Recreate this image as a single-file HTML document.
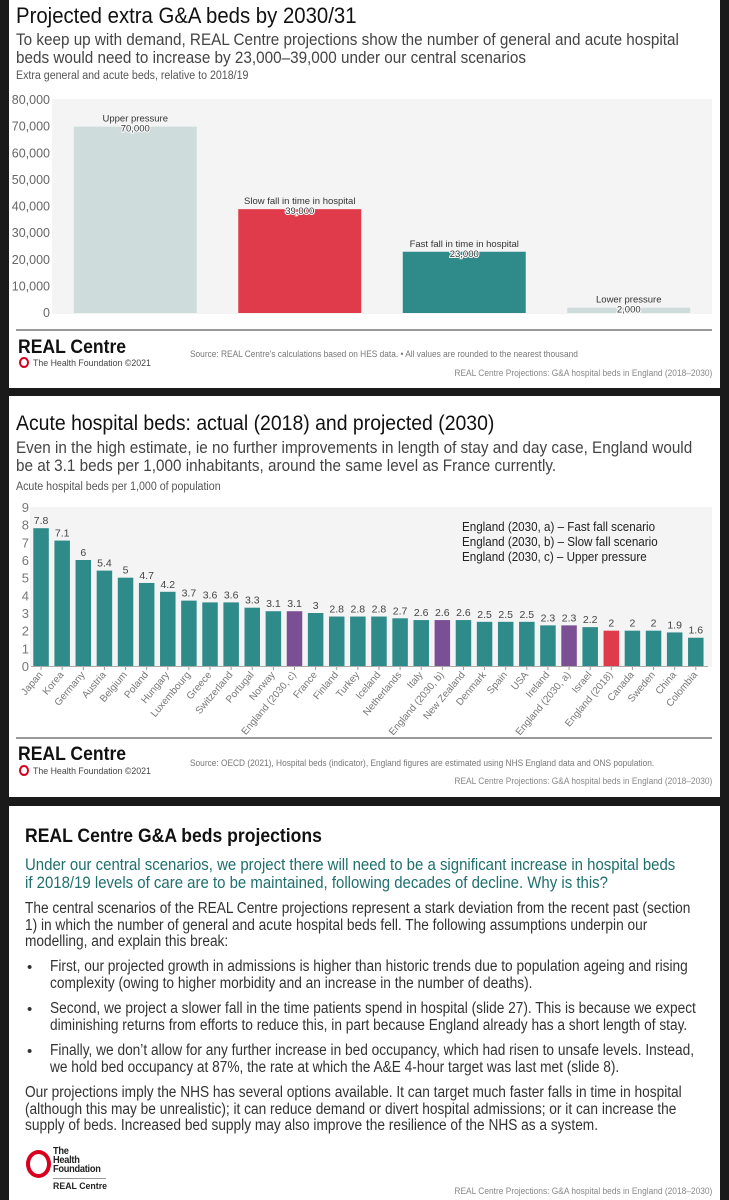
<!DOCTYPE html>
<html><head><meta charset="utf-8">
<style>
body{margin:0;width:729px;height:1200px;background:#1a1a1a;position:relative;overflow:hidden;font-family:"Liberation Sans",sans-serif;}
.panel{position:absolute;left:9px;width:711px;background:#fff;}
.t{position:absolute;white-space:nowrap;transform-origin:0 0;}
.c{transform:scaleX(0.925);}
.b{transform:scaleX(0.895);}
svg{position:absolute;left:0;top:0;}
</style></head><body>
<div class="panel" style="top:0;height:388px"></div>
<div class="panel" style="top:396px;height:401px"></div>
<div class="panel" style="top:806px;height:394px"></div>

<!-- Panel 1 text -->
<div class="t c" style="left:16px;top:3px;font-size:22px;color:#111">Projected extra G&amp;A beds by 2030/31</div>
<div class="t c" style="left:16px;top:31px;font-size:16.5px;color:#444;line-height:18px">To keep up with demand, REAL Centre projections show the number of general and acute hospital<br>beds would need to increase by 23,000–39,000 under our central scenarios</div>
<div class="t c" style="left:16px;top:70px;font-size:11.5px;color:#555">Extra general and acute beds, relative to 2018/19</div>

<svg id="c1" width="729" height="400"></svg>

<div style="position:absolute;left:16px;top:329px;width:696px;height:2px;background:#999"></div>
<div class="t c" style="left:18px;top:337px;font-size:19px;font-weight:bold;color:#111">REAL Centre</div>
<div class="t" style="left:19px;top:357px;font-size:9.5px;color:#444"><span style="display:inline-block;width:6px;height:7px;border:2px solid #d9001f;border-radius:50%;vertical-align:-2px;margin-right:4px"></span><span class="t c" style="position:relative;display:inline-block;">The Health Foundation ©2021</span></div>
<div class="t c" style="left:190px;top:349px;font-size:9px;color:#777">Source: REAL Centre's calculations based on HES data. • All values are rounded to the nearest thousand</div>
<div class="t" style="right:17px;top:368px;font-size:9px;color:#888;transform:scaleX(0.93);transform-origin:100% 0">REAL Centre Projections: G&amp;A hospital beds in England (2018–2030)</div>

<!-- Panel 2 text -->
<div class="t c" style="left:16px;top:412px;font-size:21px;color:#111">Acute hospital beds: actual (2018) and projected (2030)</div>
<div class="t c" style="left:16px;top:439px;font-size:16.5px;color:#444;line-height:18px">Even in the high estimate, ie no further improvements in length of stay and day case, England would<br>be at 3.1 beds per 1,000 inhabitants, around the same level as France currently.</div>
<div class="t c" style="left:16px;top:481px;font-size:11.5px;color:#555">Acute hospital beds per 1,000 of population</div>

<svg id="c2" width="729" height="1200"></svg>

<div style="position:absolute;left:16px;top:737px;width:696px;height:2px;background:#999"></div>
<div class="t c" style="left:18px;top:744px;font-size:19px;font-weight:bold;color:#111">REAL Centre</div>
<div class="t" style="left:19px;top:765px;font-size:9.5px;color:#444"><span style="display:inline-block;width:6px;height:7px;border:2px solid #d9001f;border-radius:50%;vertical-align:-2px;margin-right:4px"></span><span class="t c" style="position:relative;display:inline-block;">The Health Foundation ©2021</span></div>
<div class="t c" style="left:190px;top:758px;font-size:9px;color:#777">Source: OECD (2021), Hospital beds (indicator), England figures are estimated using NHS England data and ONS population.</div>
<div class="t" style="right:17px;top:776px;font-size:9px;color:#888;transform:scaleX(0.93);transform-origin:100% 0">REAL Centre Projections: G&amp;A hospital beds in England (2018–2030)</div>

<!-- Panel 3 -->
<div class="t c" style="left:25px;top:826px;font-size:19px;font-weight:bold;color:#111">REAL Centre G&amp;A beds projections</div>
<div class="t" style="left:25px;top:856px;font-size:17px;color:#1f6f6d;line-height:18px;transform:scaleX(0.88)">Under our central scenarios, we project there will need to be a significant increase in hospital beds<br>if 2018/19 levels of care are to be maintained, following decades of decline. Why is this?</div>
<div class="t b" style="left:25px;top:901px;font-size:15.3px;color:#333;line-height:16.6px">The central scenarios of the REAL Centre projections represent a stark deviation from the recent past (section<br>1) in which the number of general and acute hospital beds fell. The following assumptions underpin our<br>modelling, and explain this break:</div>
<div class="t" style="left:27px;top:959px;font-size:15px;color:#333">•</div>
<div class="t b" style="left:50px;top:959px;font-size:15.3px;color:#333;line-height:16.6px">First, our projected growth in admissions is higher than historic trends due to population ageing and rising<br>complexity (owing to higher morbidity and an increase in the number of deaths).</div>
<div class="t" style="left:27px;top:1001px;font-size:15px;color:#333">•</div>
<div class="t b" style="left:50px;top:1001px;font-size:15.3px;color:#333;line-height:16.6px">Second, we project a slower fall in the time patients spend in hospital (slide 27). This is because we expect<br>diminishing returns from efforts to reduce this, in part because England already has a short length of stay.</div>
<div class="t" style="left:27px;top:1043px;font-size:15px;color:#333">•</div>
<div class="t b" style="left:50px;top:1043px;font-size:15.3px;color:#333;line-height:16.6px">Finally, we don’t allow for any further increase in bed occupancy, which had risen to unsafe levels. Instead,<br>we hold bed occupancy at 87%, the rate at which the A&amp;E 4-hour target was last met (slide 8).</div>
<div class="t b" style="left:25px;top:1085px;font-size:15.3px;color:#333;line-height:16.6px">Our projections imply the NHS has several options available. It can target much faster falls in time in hospital<br>(although this may be unrealistic); it can reduce demand or divert hospital admissions; or it can increase the<br>supply of beds. Increased bed supply may also improve the resilience of the NHS as a system.</div>
<div style="position:absolute;left:26px;top:1150px;width:17px;height:20px;border:4px solid #d9001f;border-radius:50%"></div>
<div class="t c" style="left:53px;top:1147px;font-size:10px;font-weight:bold;color:#222;line-height:9px;letter-spacing:-0.3px">The<br>Health<br>Foundation</div>
<div style="position:absolute;left:53px;top:1178px;width:53px;height:1px;background:#999"></div>
<div class="t c" style="left:53px;top:1181px;font-size:9.5px;font-weight:bold;color:#222">REAL Centre</div>
<div class="t" style="right:17px;top:1186px;font-size:9px;color:#888;transform:scaleX(0.93);transform-origin:100% 0">REAL Centre Projections: G&amp;A hospital beds in England (2018–2030)</div>

<script>
const NS='http://www.w3.org/2000/svg';
function mk(svg,tag,attrs,txt){const e=document.createElementNS(NS,tag);for(const k in attrs)e.setAttribute(k,attrs[k]);if(txt!==undefined)e.textContent=txt;svg.appendChild(e);return e;}

// ---- Chart 1 data ----
const c1Categories=['Upper pressure','Slow fall in time in hospital','Fast fall in time in hospital','Lower pressure'];
const c1Values=[70000,39000,23000,2000];
const c1ValueLabels=['70,000','39,000','23,000','2,000'];
const c1Colors=['#cfdcdc','#e03b4b','#2e8b8a','#cfdcdc'];
const c1Ticks=[0,10000,20000,30000,40000,50000,60000,70000,80000];
const c1TickLabels=['0','10,000','20,000','30,000','40,000','50,000','60,000','70,000','80,000'];

(function(){
  const s=document.getElementById('c1');
  const y0=313,y1=100,max=80000;
  const y=v=>y0-(v/max)*(y0-y1);
  const band=164.5,x0=53,bw=123;
  const xc=i=>x0+band*i+band/2;
  const bg=mk(s,'rect',{x:52,y:99,width:660,height:215,fill:'#f4f4f4'});
  
  
  c1Ticks.forEach((t,i)=>{
    const l=mk(s,'text',{x:50,y:y(t)+4,'text-anchor':'end','font-size':12.5,fill:'#666','font-family':'Liberation Sans'},c1TickLabels[i]);
    
    
  });
  c1Values.forEach((v,i)=>{
    const r=mk(s,'rect',{x:xc(i)-bw/2,y:y(v),width:bw,height:y0-y(v),fill:c1Colors[i]});
    
    
    const a=mk(s,'text',{x:xc(i),y:y(v)-5,'text-anchor':'middle','font-size':9.5,fill:'#333','font-family':'Liberation Sans'},c1Categories[i]);
    
    
    const b=mk(s,'text',{x:xc(i),y:y(v)+5,'text-anchor':'middle','font-size':9.5,fill:'#333',stroke:'#fff','stroke-width':2,'paint-order':'stroke','font-family':'Liberation Sans'},c1ValueLabels[i]);
    
    
  });
})();

// ---- Chart 2 data ----
const c2Countries=['Japan','Korea','Germany','Austria','Belgium','Poland','Hungary','Luxembourg','Greece','Switzerland','Portugal','Norway','England (2030, c)','France','Finland','Turkey','Iceland','Netherlands','Italy','England (2030, b)','New Zealand','Denmark','Spain','USA','Ireland','England (2030, a)','Israel','England (2018)','Canada','Sweden','China','Colombia'];
const c2Values=[7.8,7.1,6,5.4,5,4.7,4.2,3.7,3.6,3.6,3.3,3.1,3.1,3,2.8,2.8,2.8,2.7,2.6,2.6,2.6,2.5,2.5,2.5,2.3,2.3,2.2,2,2,2,1.9,1.6];
const c2Types=['c','c','c','c','c','c','c','c','c','c','c','c','p','c','c','c','c','c','c','p','c','c','c','c','c','p','c','r','c','c','c','c'];
const c2Ticks=[0,1,2,3,4,5,6,7,8,9];
const c2Legend=['England (2030, a) – Fast fall scenario','England (2030, b) – Slow fall scenario','England (2030, c) – Upper pressure'];

(function(){
  const s=document.getElementById('c2');
  const col={c:'#2e8b8a',p:'#7b4f94',r:'#e03b4b'};
  const y0=666,y1=507,max=9;
  const y=v=>y0-(v/max)*(y0-y1);
  const x0=30.5,band=21.12,bw=15.5;
  const xc=i=>x0+band*i+band/2;
  const bg=mk(s,'rect',{x:30,y:507,width:682,height:160,fill:'#f4f4f4'});
  
  
  c2Ticks.forEach(t=>{
    const l=mk(s,'text',{x:29,y:y(t)+5,'text-anchor':'end','font-size':13,fill:'#777','font-family':'Liberation Sans'},String(t));
    
    
  });
  c2Values.forEach((v,i)=>{
    const r=mk(s,'rect',{x:xc(i)-bw/2,y:y(v),width:bw,height:y0-y(v),fill:col[c2Types[i]]});
    
    
    const lb=mk(s,'text',{x:xc(i),y:y(v)-4,'text-anchor':'middle','font-size':10.5,fill:'#444','font-family':'Liberation Sans'},String(v));
    
    
    const tk=mk(s,'line',{x1:xc(i),x2:xc(i),y1:y0,y2:y0+4,stroke:'#999','stroke-width':1});
    
    
    const xl=mk(s,'text',{x:xc(i)+2,y:y0+9,'text-anchor':'end','font-size':10,fill:'#777','font-family':'Liberation Sans',transform:'rotate(-50 '+(xc(i)+2)+' '+(y0+9)+')'},c2Countries[i]);
    
    
  });
  const ax=mk(s,'line',{x1:31,x2:708,y1:y0+0.5,y2:y0+0.5,stroke:'#aaa','stroke-width':1});
  
  
  c2Legend.forEach((t,i)=>{
    const l=mk(s,'text',{x:462,y:531+i*15,'font-size':12.5,fill:'#222','font-family':'Liberation Sans',transform:'translate(462 0) scale(0.93 1) translate(-462 0)'},t);
    
    
  });
})();
</script>
</body></html>
